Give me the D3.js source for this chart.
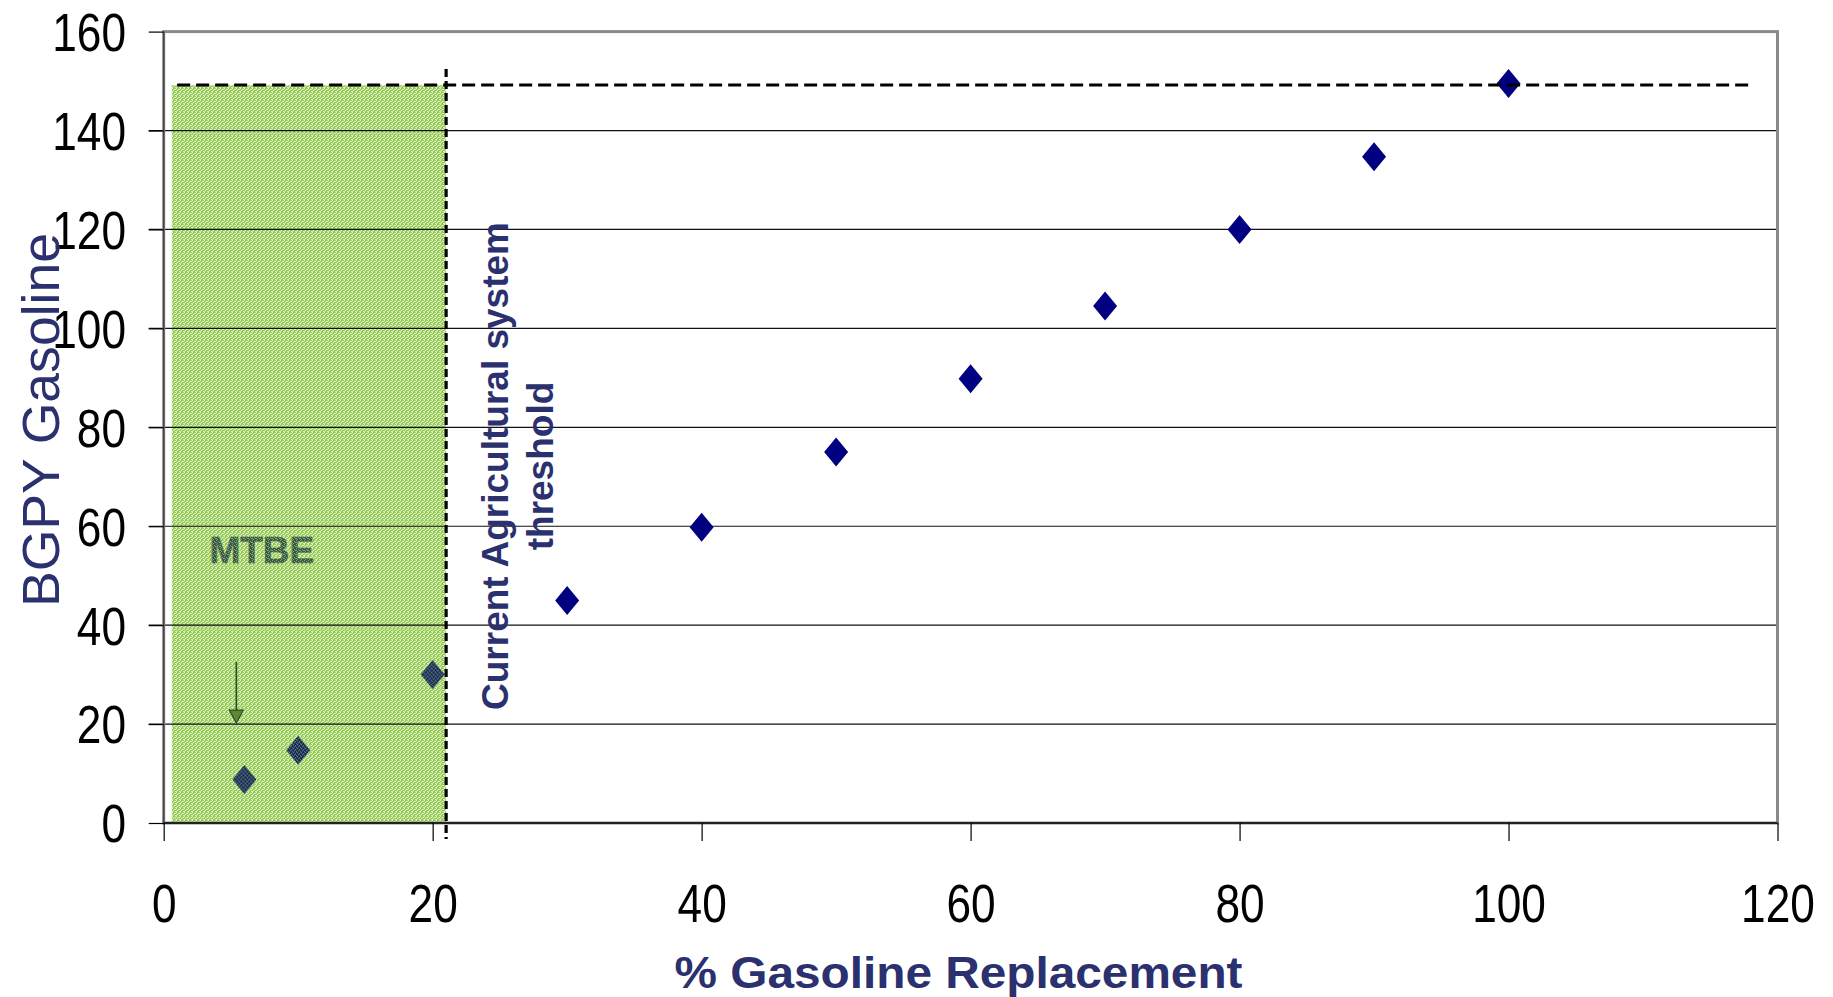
<!DOCTYPE html>
<html>
<head>
<meta charset="utf-8">
<script src="https://cdn.jsdelivr.net/npm/d3@7/dist/d3.min.js"></script>
<style>
  html, body { margin: 0; padding: 0; background: #fff; }
  svg { display: block; }
</style>
</head>
<body>
<script>
// ---------- data ----------
const xValues = [6, 10, 20, 30, 40, 50, 60, 70, 80, 90, 100];
const yValues = [8.8, 14.7, 30, 45, 59.8, 75, 89.8, 104.5, 120, 134.7, 149.5];
const xTicks = [0, 20, 40, 60, 80, 100, 120];
const yTicks = [0, 20, 40, 60, 80, 100, 120, 140, 160];
const mtbeRegion = [0.6, 21];      // x-range of shaded region
const thresholdX = 21;             // vertical dashed line
const maxLevel = 149.2;            // horizontal dashed line
const maxLineX = [1, 118];
const arrowX = 5.4, arrowFrom = 32.6, arrowTo = 20.2;
const mtbeLabelPos = [3.4, 52.6];
const xTitle = "% Gasoline Replacement";
const yTitle = "BGPY Gasoline";
const thresholdLines = ["Current Agricultural system", "threshold"];
const mtbeLabel = "MTBE";

// ---------- setup ----------
const W = 1833, H = 997;
const L = 163.7, R = 1777.5, T = 31.6, B = 823;
const navy = "#2b306e";
const x = d3.scaleLinear().domain([0, 120]).range([L, R]);
const y = d3.scaleLinear().domain([0, 160]).range([B, T]);

const svg = d3.select("body").append("svg").attr("width", W).attr("height", H);
svg.append("rect").attr("width", W).attr("height", H).attr("fill", "#fff");

const defs = svg.append("defs");
// green speckled texture
const gp = defs.append("pattern").attr("id", "greenTex").attr("patternUnits", "userSpaceOnUse")
  .attr("width", 4).attr("height", 4);
gp.append("rect").attr("width", 4).attr("height", 4).attr("fill", "#9fd263");
[[0,0],[2,1],[1,2],[3,3],[0,3],[3,1]].forEach(([a,b]) => gp.append("rect").attr("x", a).attr("y", b).attr("width", 1).attr("height", 1).attr("fill", "#dcefc4"));
[[1,0],[3,2],[2,3]].forEach(([a,b]) => gp.append("rect").attr("x", a).attr("y", b).attr("width", 1).attr("height", 1).attr("fill", "#88c343"));
// navy under green texture
const np = defs.append("pattern").attr("id", "navyTex").attr("patternUnits", "userSpaceOnUse")
  .attr("width", 4).attr("height", 4);
np.append("rect").attr("width", 4).attr("height", 4).attr("fill", "#14206a");
[[0,0],[2,1],[1,3],[3,2]].forEach(([a,b]) => np.append("rect").attr("x", a).attr("y", b).attr("width", 1).attr("height", 1).attr("fill", "#7fb84a"));
const tp = defs.append("pattern").attr("id", "textTex").attr("patternUnits", "userSpaceOnUse")
  .attr("width", 4).attr("height", 4);
tp.append("rect").attr("width", 4).attr("height", 4).attr("fill", "#3a5258");
[[0,0],[2,1],[1,3],[3,2],[0,2]].forEach(([a,b]) => tp.append("rect").attr("x", a).attr("y", b).attr("width", 1).attr("height", 1).attr("fill", "#7fb84a"));

// shaded MTBE region
svg.append("rect")
  .attr("x", x(mtbeRegion[0])).attr("y", y(maxLevel))
  .attr("width", x(mtbeRegion[1]) - x(mtbeRegion[0]))
  .attr("height", y(0) - y(maxLevel))
  .attr("fill", "url(#greenTex)");

// gridlines
svg.append("g").selectAll("line").data(yTicks.filter(d => d > 0 && d < 160)).join("line")
  .attr("x1", L - 15).attr("x2", R).attr("y1", d => y(d)).attr("y2", d => y(d))
  .attr("stroke", "#111").attr("stroke-width", 1.2);

// plot border
svg.append("rect").attr("x", L).attr("y", T).attr("width", R - L).attr("height", B - T)
  .attr("fill", "none").attr("stroke", "#8a8a8a").attr("stroke-width", 3);
svg.append("line").attr("x1", L).attr("x2", L).attr("y1", T).attr("y2", B + 1)
  .attr("stroke", "#444").attr("stroke-width", 1.5);
svg.append("line").attr("x1", L).attr("x2", R).attr("y1", B).attr("y2", B)
  .attr("stroke", "#222").attr("stroke-width", 2);

// axes
const narrow = "'Liberation Sans Narrow', 'Arial Narrow', 'Liberation Sans', Arial, sans-serif";
const digitW = 24.6;
const yAxis = svg.append("g").attr("transform", `translate(${L},0)`)
  .call(d3.axisLeft(y).tickValues(yTicks).tickSize(15).tickPadding(22.7).tickFormat(d3.format("d")));
yAxis.select(".domain").remove();
yAxis.selectAll(".tick line").attr("stroke", "#000").attr("stroke-width", 1.2);
yAxis.selectAll(".tick text")
  .attr("font-family", narrow).attr("font-size", 54).attr("fill", "#000").attr("dy", "0.35em")
  .attr("textLength", d => String(d).length * digitW).attr("lengthAdjust", "spacingAndGlyphs");

const xAxis = svg.append("g").attr("transform", `translate(0,${B})`)
  .call(d3.axisBottom(x).tickValues(xTicks).tickSize(18).tickFormat(d3.format("d")));
xAxis.select(".domain").remove();
xAxis.selectAll(".tick line").attr("stroke", "#000").attr("stroke-width", 1.2);
xAxis.selectAll(".tick text")
  .attr("font-family", narrow).attr("font-size", 54).attr("fill", "#000")
  .attr("y", 99).attr("dy", 0)
  .attr("textLength", d => String(d).length * digitW).attr("lengthAdjust", "spacingAndGlyphs");

// axis titles
svg.append("text").text(xTitle)
  .attr("x", 958.5).attr("y", 988).attr("text-anchor", "middle")
  .attr("font-family", "'Liberation Sans', Arial, sans-serif").attr("font-weight", "bold")
  .attr("font-size", 45).attr("fill", navy)
  .attr("textLength", 568).attr("lengthAdjust", "spacingAndGlyphs");
svg.append("text").text(yTitle)
  .attr("transform", "translate(59,420) rotate(-90)").attr("text-anchor", "middle")
  .attr("font-family", "'Liberation Sans', Arial, sans-serif")
  .attr("font-size", 51).attr("fill", navy)
  .attr("textLength", 374).attr("lengthAdjust", "spacingAndGlyphs");

// diamonds
const diamond = "M0,-14.5L12,0L0,14.5L-12,0Z";
svg.append("g").selectAll("path").data(xValues.map((v, i) => [v, yValues[i]])).join("path")
  .attr("d", diamond)
  .attr("transform", d => `translate(${x(d[0])},${y(d[1])})`)
  .attr("fill", d => d[0] <= thresholdX ? "url(#navyTex)" : "#000080");

// MTBE label and arrow
svg.append("text").text(mtbeLabel)
  .attr("x", x(mtbeLabelPos[0])).attr("y", y(mtbeLabelPos[1]))
  .attr("font-family", "'Liberation Sans', Arial, sans-serif").attr("font-weight", "bold")
  .attr("font-size", 37).attr("fill", "url(#textTex)")
  .attr("stroke", "#4a6450").attr("stroke-width", 0.6);
svg.append("line")
  .attr("x1", x(arrowX)).attr("x2", x(arrowX)).attr("y1", y(arrowFrom)).attr("y2", y(arrowTo) - 12)
  .attr("stroke", "#2e4a2e").attr("stroke-width", 1.6);
svg.append("path")
  .attr("d", `M${x(arrowX) - 7},${y(arrowTo) - 13}L${x(arrowX) + 7},${y(arrowTo) - 13}L${x(arrowX)},${y(arrowTo)}Z`)
  .attr("fill", "#5e8a2e").attr("stroke", "#2e4a2e").attr("stroke-width", 1.2);

// dashed lines
svg.append("line")
  .attr("x1", x(maxLineX[0])).attr("x2", x(maxLineX[1])).attr("y1", y(maxLevel)).attr("y2", y(maxLevel))
  .attr("stroke", "#000").attr("stroke-width", 3.2).attr("stroke-dasharray", "13,6");
svg.append("line")
  .attr("x1", x(thresholdX)).attr("x2", x(thresholdX)).attr("y1", 69).attr("y2", B + 16)
  .attr("stroke", "#000").attr("stroke-width", 3.2).attr("stroke-dasharray", "8,4");

// threshold annotation
const ann = svg.append("text")
  .attr("transform", "translate(508,466) rotate(-90)").attr("text-anchor", "middle")
  .attr("font-family", "'Liberation Sans', Arial, sans-serif").attr("font-weight", "bold")
  .attr("font-size", 37).attr("fill", navy);
ann.append("tspan").attr("x", 0).attr("y", 0).text(thresholdLines[0]);
ann.append("tspan").attr("x", 0).attr("y", 45).text(thresholdLines[1]);
</script>
</body>
</html>
